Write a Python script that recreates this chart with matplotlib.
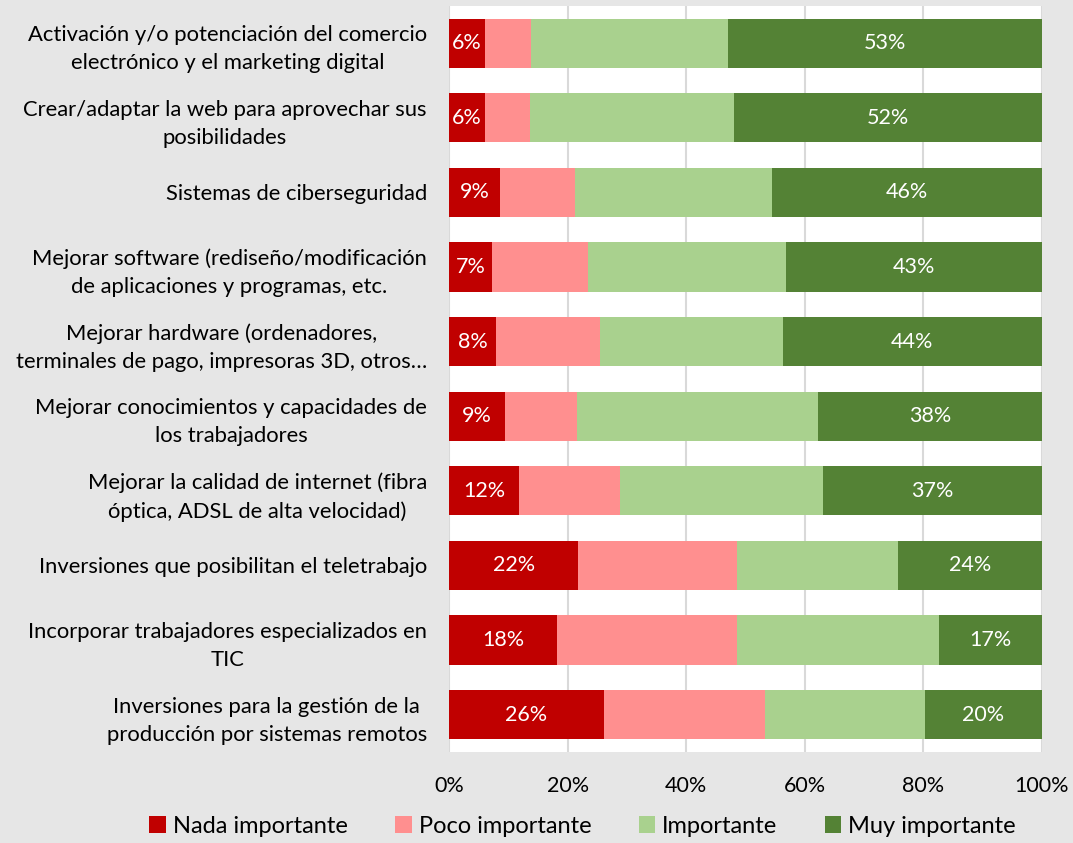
import matplotlib.pyplot as plt
import numpy as np

plt.rcParams['font.family'] = ['Lato', 'DejaVu Sans']

categories = [
    "Activación y/o potenciación del comercio\nelectrónico y el marketing digital",
    "Crear/adaptar la web para aprovechar sus\nposibilidades",
    "Sistemas de ciberseguridad",
    "Mejorar software (rediseño/modificación\nde aplicaciones y programas, etc.",
    "Mejorar hardware (ordenadores,\nterminales de pago, impresoras 3D, otros…",
    "Mejorar conocimientos y capacidades de\nlos trabajadores",
    "Mejorar la calidad de internet (fibra\nóptica, ADSL de alta velocidad)",
    "Inversiones que posibilitan el teletrabajo",
    "Incorporar trabajadores especializados en\nTIC",
    "Inversiones para la gestión de la\nproducción por sistemas remotos",
]

nada = [6.0, 6.0, 8.6, 7.3, 7.9, 9.4, 11.8, 21.8, 18.2, 26.1]
poco = [7.8, 7.7, 12.6, 16.1, 17.6, 12.2, 17.0, 26.8, 30.4, 27.2]
importante = [33.2, 34.3, 33.3, 33.4, 30.8, 40.6, 34.3, 27.1, 34.0, 27.0]
muy = [53.0, 52.0, 45.5, 43.2, 43.7, 37.8, 36.9, 24.3, 17.4, 19.7]

series_names = ["Nada importante", "Poco importante", "Importante", "Muy importante"]
colors = ["#C00000", "#FF8F8F", "#A9D18E", "#548235"]

fig = plt.figure(figsize=(10.73, 8.43), dpi=100, facecolor="#E6E6E6")
ax = fig.add_axes([0.4185, 0.108, 0.5525, 0.885])
ax.set_facecolor("white")

y = np.arange(len(categories))
left = np.zeros(len(categories))
for name, vals, col in zip(series_names, [nada, poco, importante, muy], colors):
    vals = np.array(vals)
    bars = ax.barh(y, vals, left=left, height=0.66, color=col, label=name, zorder=3)
    if name in ("Nada importante", "Muy importante"):
        for b, v in zip(bars, vals):
            ax.text(b.get_x() + b.get_width() / 2, b.get_y() + b.get_height() / 2,
                    f"{v:.0f}%", ha="center", va="center", color="white",
                    fontsize=15.5, zorder=4)
    left += vals

ax.set_xlim(0, 100)
ax.set_ylim(len(categories) - 0.5, -0.5)
ax.set_xticks(range(0, 101, 20))
ax.set_xticklabels([f"{t}%" for t in range(0, 101, 20)], fontsize=15.5)
ax.set_yticks(y)
ax.set_yticklabels(categories, fontsize=15.8, multialignment="center", linespacing=1.5)
ax.tick_params(axis="both", length=0)
ax.tick_params(axis="y", pad=16)
ax.tick_params(axis="x", pad=17)
ax.xaxis.grid(True, color="#D9D9D9", linewidth=1.5, zorder=0)
for s in ax.spines.values():
    s.set_visible(False)

fig.legend(loc="lower center", bbox_to_anchor=(0.543, -0.018), ncol=4, frameon=False,
           fontsize=17, handlelength=0.7, handleheight=0.7, handletextpad=0.3,
           columnspacing=2.0)

fig.savefig("out.png", dpi=100, facecolor=fig.get_facecolor())
